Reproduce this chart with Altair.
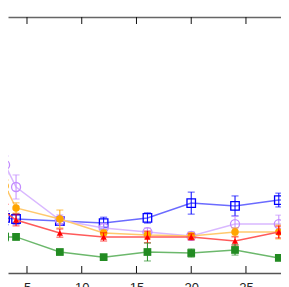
import altair as alt
import pandas as pd

# x positions of the measurements
x_vals = [3, 4, 8, 12, 16, 20, 24, 28, 32]
tick_values = [5, 10, 15, 20, 25]

# y values (arbitrary units: 0 = bottom border, 10 = top border) and error half-widths
blue_y = [2.15, 2.11, 2.03, 1.95, 2.15, 2.73, 2.62, 2.85, 2.89]
blue_err = [0.27, 0.20, 0.12, 0.23, 0.20, 0.43, 0.39, 0.27, 0.27]
purple_y = [4.22, 3.36, 2.07, 1.76, 1.60, 1.45, 1.91, 1.91, 1.95]
purple_err = [0.35, 0.47, 0.20, 0.16, 0.16, 0.16, 0.31, 0.35, 0.31]
orange_y = [3.40, 2.54, 2.11, 1.56, 1.48, 1.45, 1.60, 1.60, 1.64]
orange_err = [0.23, 0.20, 0.35, 0.12, 0.12, 0.12, 0.16, 0.27, 0.27]
red_y = [2.38, 2.07, 1.56, 1.41, 1.41, 1.41, 1.25, 1.60, 1.64]
red_err = [0.31, 0.23, 0.16, 0.16, 0.23, 0.12, 0.16, 0.23, 0.23]
green_y = [1.41, 1.41, 0.82, 0.62, 0.82, 0.78, 0.90, 0.59, 0.62]
green_err = [0.16, 0.12, 0.08, 0.08, 0.35, 0.16, 0.20, 0.08, 0.08]

series = [
    # name, ys, errs, marker color, line color, shape, filled, size
    ("blue", blue_y, blue_err, "#0000ff", "#6b6bff", "square", False, 72),
    ("purple", purple_y, purple_err, "#c38cff", "#d9b8ff", "circle", False, 81),
    ("orange", orange_y, orange_err, "#ffa500", "#ffc96e", "circle", True, 56),
    ("red", red_y, red_err, "#ff0000", "#ff5a5a", "triangle-up", True, 40),
    ("green", green_y, green_err, "#228b22", "#6cb86c", "square", True, 60),
]

W, H = 273, 256
xscale = alt.Scale(domain=[3.265, 28.20], nice=False, zero=False)
yscale = alt.Scale(domain=[0, 10], nice=False, zero=False)

layers = []
first = True
for name, ys, errs, mcol, lcol, shape, filled, size in series:
    df = pd.DataFrame({
        "x": x_vals,
        "y": ys,
        "lo": [a - b for a, b in zip(ys, errs)],
        "hi": [a + b for a, b in zip(ys, errs)],
    })
    if first:
        xax = alt.Axis(orient="bottom", ticks=False, grid=False, domain=True,
                       domainColor="#555555", domainWidth=1.5, values=tick_values,
                       labelFontSize=13, labelColor="#222222", labelPadding=8,
                       labelFont="Liberation Sans", title=None)
        first = False
    else:
        xax = None
    base = alt.Chart(df)
    line = base.mark_line(color=lcol, strokeWidth=1.5).encode(
        x=alt.X("x:Q", scale=xscale, axis=xax),
        y=alt.Y("y:Q", scale=yscale, axis=None),
    )
    bars = base.mark_rule(color=mcol, strokeWidth=1).encode(
        x=alt.X("x:Q", scale=xscale, axis=None),
        y=alt.Y("lo:Q", scale=yscale, axis=None),
        y2="hi:Q",
    )
    cap_lo = base.mark_tick(color=mcol, orient="horizontal", size=7, thickness=1).encode(
        x=alt.X("x:Q", scale=xscale, axis=None),
        y=alt.Y("lo:Q", scale=yscale, axis=None),
    )
    cap_hi = base.mark_tick(color=mcol, orient="horizontal", size=7, thickness=1).encode(
        x=alt.X("x:Q", scale=xscale, axis=None),
        y=alt.Y("hi:Q", scale=yscale, axis=None),
    )
    if filled:
        pts = base.mark_point(shape=shape, filled=True, color=mcol, size=size, opacity=1)
    else:
        pts = base.mark_point(shape=shape, filled=False, color=mcol, size=size,
                              strokeWidth=1.3, opacity=1)
    pts = pts.encode(
        x=alt.X("x:Q", scale=xscale, axis=None),
        y=alt.Y("y:Q", scale=yscale, axis=None),
    )
    layers += [line, bars, cap_lo, cap_hi, pts]

ticks_df = pd.DataFrame({"t": tick_values})
tick_base = alt.Chart(ticks_df)
bottom_ticks = tick_base.mark_rule(color="#111111", strokeWidth=1).encode(
    x=alt.X("t:Q", scale=xscale,
            axis=alt.Axis(orient="top", ticks=False, labels=False, grid=False,
                          domain=True, domainColor="#666666", domainWidth=1.5,
                          title=None)),
    y=alt.value(H),
    y2=alt.value(H - 7),
)
top_ticks = tick_base.mark_rule(color="#111111", strokeWidth=1).encode(
    x=alt.X("t:Q", scale=xscale, axis=None),
    y=alt.value(0),
    y2=alt.value(7),
)
layers += [bottom_ticks, top_ticks]

chart = alt.layer(*layers).resolve_axis(x="independent").properties(
    width=W, height=H,
    autosize=alt.AutoSizeParams(type="none"),
    padding={"left": 0, "top": 9, "right": 0, "bottom": 14},
).configure_view(stroke=None)

chart.save("out.html", embed_options={"renderer": "svg", "actions": False})
